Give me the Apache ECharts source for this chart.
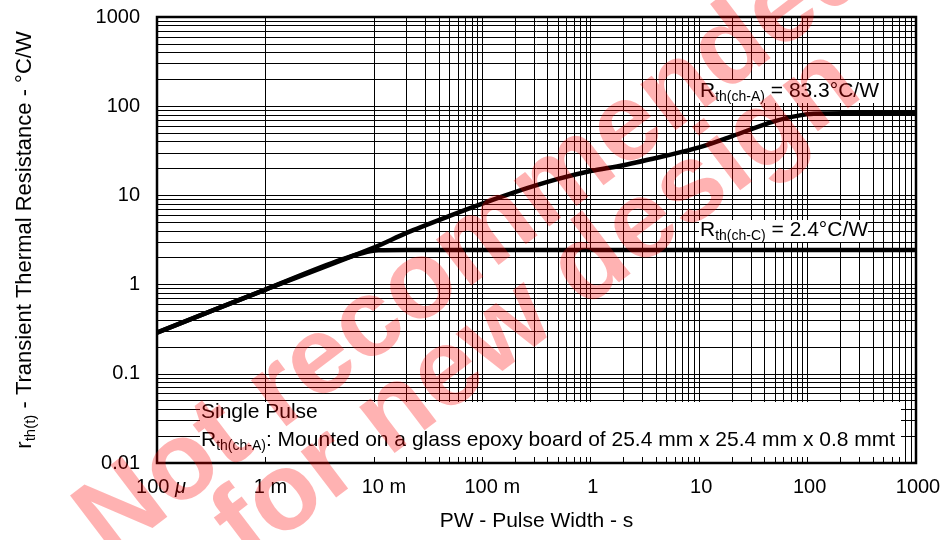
<!DOCTYPE html>
<html><head><meta charset="utf-8">
<script src="https://cdn.jsdelivr.net/npm/echarts@6/dist/echarts.min.js"></script>
<style>html,body{margin:0;padding:0;background:#fff}#c{width:944px;height:540px}</style>
</head><body><div id="c"></div>
<script>
// ---- data ----
const pulseWidthA = [1e-4, 1e-3, 1e-2, 2e-2, 5e-2, 0.1, 0.2, 0.5, 1, 2, 5, 10, 20, 50, 100, 150, 300, 1000];
const rthA        = [0.29, 0.88, 2.6, 3.8, 5.9, 8.1, 10.9, 15.3, 18.8, 21.8, 28, 34.5, 46, 68, 81.5, 83, 83.3, 83.3];
const pulseWidthC = [1e-4, 1e-3, 5e-3, 1.1e-2, 2e-2, 1000];
const rthC        = [0.29, 0.88, 1.9, 2.42, 2.45, 2.45];
const xTickValues = [1e-4, 1e-3, 1e-2, 1e-1, 1, 10, 100, 1000];
const xTickLabels = ['100 μ', '1 m', '10 m', '100 m', '1', '10', '100', '1000'];
const yTickValues = [0.01, 0.1, 1, 10, 100, 1000];
const yTickLabels = ['0.01', '0.1', '1', '10', '100', '1000'];
const minorMultipliers = [2, 3, 4, 5, 6, 7, 8, 9];
const labelA = 'R|th(ch-A)| = 83.3°C/W';
const labelC = 'R|th(ch-C)| = 2.4°C/W';
const noteLine1 = 'Single Pulse';
const noteLine2 = 'R|th(ch-A)|: Mounted on a glass epoxy board of 25.4 mm x 25.4 mm x 0.8 mmt';
const watermark = ['Not recommended', 'for new design'];

const FONT = '"Liberation Sans", Arial, Helvetica, sans-serif';
function zip(a, b) { return a.map((v, i) => [v, b[i]]); }
function findIdx(vals, v) {
  const lv = Math.log10(v);
  for (let i = 0; i < vals.length; i++) if (Math.abs(Math.log10(vals[i]) - lv) < 1e-6) return i;
  return -1;
}
function minors(majors) {
  const out = [];
  for (let i = 0; i < majors.length - 1; i++) minorMultipliers.forEach(m => out.push(majors[i] * m));
  return out;
}
function subText(s) {
  const p = s.split('|');
  return '{r|' + p[0] + '}{s|' + p[1] + '}{r|' + p[2] + '}';
}
function richFor(size, subSize) {
  return {
    r: { fontSize: size, fontFamily: FONT, color: '#000', fill: '#000', lineHeight: 26 },
    s: { fontSize: subSize, fontFamily: FONT, color: '#000', fill: '#000', lineHeight: 24, verticalAlign: 'bottom' }
  };
}
const richSub = richFor(21, 14);
const xPad = { '100 μ': 8, '1 m': 10, '10 m': 20, '100 m': 20 };

const markData = [];
minors(xTickValues).forEach(v => markData.push({ xAxis: v }));
minors(yTickValues).forEach(v => markData.push({ yAxis: v }));

const chart = echarts.init(document.getElementById('c'), null, { renderer: 'canvas' });
chart.setOption({
  animation: false,
  backgroundColor: '#fff',
  grid: { left: 157, top: 17, right: 28, bottom: 77, show: true, borderColor: '#000', borderWidth: 2.5,
          backgroundColor: 'rgba(0,0,0,0)', outerBoundsMode: 'none', containLabel: false },
  xAxis: {
    type: 'log', logBase: 10, min: 1e-4, max: 1000, splitNumber: 7,
    axisLine: { show: false }, axisTick: { show: false },
    splitLine: { show: true, lineStyle: { color: '#000', width: 1 } },
    axisLabel: {
      margin: 14, color: '#000', fontSize: 20, fontFamily: FONT,
      formatter: function (v) {
        const i = findIdx(xTickValues, v);
        if (i < 0) return '';
        const t = xTickLabels[i];
        if (t === '100 μ') return '{p|100 }{mu|μ}';
        const pad = xPad[t] || 4;
        return '{q' + pad + '|' + t + '}';
      },
      rich: {
        p: { fontSize: 20, fontFamily: FONT, color: '#000', padding: [0, 0, 0, 8] },
        mu: { fontSize: 20, fontFamily: FONT, color: '#000', fontStyle: 'italic' },
        q4: { fontSize: 20, fontFamily: FONT, color: '#000', padding: [0, 0, 0, 4] },
        q10: { fontSize: 20, fontFamily: FONT, color: '#000', padding: [0, 0, 0, 10] },
        q20: { fontSize: 20, fontFamily: FONT, color: '#000', padding: [0, 0, 0, 20] }
      }
    },
    name: 'PW - Pulse Width - s', nameLocation: 'middle', nameGap: 48,
    nameTextStyle: { color: '#000', fontSize: 21, fontFamily: FONT }
  },
  yAxis: {
    type: 'log', logBase: 10, min: 0.01, max: 1000, splitNumber: 5,
    axisLine: { show: false }, axisTick: { show: false },
    splitLine: { show: true, lineStyle: { color: '#000', width: 1 } },
    axisLabel: {
      margin: 17, color: '#000', fontSize: 20, fontFamily: FONT,
      formatter: function (v) { const i = findIdx(yTickValues, v); return i < 0 ? '' : yTickLabels[i]; }
    },
    name: '{r|r}{s|th(t)}{r| - Transient Thermal Resistance - °C/W}',
    nameLocation: 'middle', nameRotate: 90, nameGap: 119,
    nameTextStyle: { color: '#000', fontSize: 22, fontFamily: FONT, rich: richFor(22, 15) }
  },
  series: [
    {
      type: 'line', data: [[1e-4, 0.01]], showSymbol: false, silent: true, z: 1,
      lineStyle: { width: 0, opacity: 0 },
      markLine: {
        z: 1, silent: true, animation: false, symbol: ['none', 'none'], label: { show: false },
        lineStyle: { color: '#000', width: 1, type: 'solid', opacity: 1 },
        emphasis: { disabled: true },
        data: markData
      }
    },
    { name: 'ch-C', type: 'line', data: zip(pulseWidthC, rthC), smooth: 0.3, showSymbol: false, z: 3,
      lineStyle: { color: '#000', width: 4.5 } },
    { name: 'ch-A', type: 'line', data: zip(pulseWidthA, rthA), smooth: 0.3, showSymbol: false, z: 3,
      lineStyle: { color: '#000', width: 4.5 } }
  ],
  graphic: { elements: [
    { type: 'rect', z: 50, shape: { x: 699, y: 80, width: 179, height: 23 }, style: { fill: '#fff' } },
    { type: 'rect', z: 50, shape: { x: 699, y: 220, width: 169, height: 22 }, style: { fill: '#fff' } },
    { type: 'rect', z: 50, shape: { x: 200, y: 402, width: 701, height: 55 }, style: { fill: '#fff' } },
    { type: 'text', z: 51, x: 700, y: 91, style: { text: subText(labelA), rich: richSub, fill: '#000', align: 'left', verticalAlign: 'middle' } },
    { type: 'text', z: 51, x: 700, y: 230.5, style: { text: subText(labelC), rich: richSub, fill: '#000', align: 'left', verticalAlign: 'middle' } },
    { type: 'text', z: 51, x: 201, y: 412, style: { text: noteLine1, fontSize: 21, fontFamily: FONT, fill: '#000', align: 'left', verticalAlign: 'middle' } },
    { type: 'text', z: 51, x: 201, y: 440, style: { text: subText(noteLine2), rich: richSub, fill: '#000', align: 'left', verticalAlign: 'middle' } },
    { type: 'text', z: 100, x: 476, y: 244, rotation: 0.65, silent: true,
      style: { text: watermark[0], fontSize: 110, fontWeight: 'bold', fontFamily: FONT, fill: 'rgba(255,0,0,0.3)', align: 'center', verticalAlign: 'middle' } },
    { type: 'text', z: 100, x: 538, y: 306, rotation: 0.65, silent: true,
      style: { text: watermark[1], fontSize: 110, fontWeight: 'bold', fontFamily: FONT, fill: 'rgba(255,0,0,0.3)', align: 'center', verticalAlign: 'middle' } }
  ] }
});
</script>
</body></html>
